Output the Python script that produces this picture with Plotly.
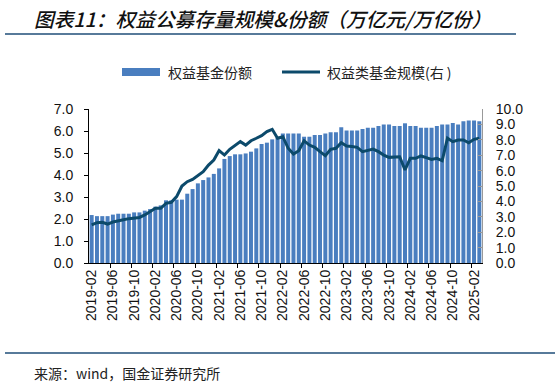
import plotly.graph_objects as go

# ---- data ----
months = []
y, m = 2019, 2
for _ in range(74):
    months.append(f"{y}-{m:02d}")
    m += 1
    if m > 12:
        m = 1
        y += 1

shares = [2.18, 2.13, 2.13, 2.13, 2.20, 2.24, 2.24, 2.24, 2.30, 2.30,
          2.38, 2.45, 2.56, 2.62, 2.85, 2.85, 2.88, 2.88, 3.15, 3.36,
          3.62, 3.77, 3.89, 4.05, 4.30, 4.73, 4.86, 4.94, 4.94, 4.98,
          5.06, 5.21, 5.41, 5.47, 5.62, 5.70, 5.89, 5.89, 5.89, 5.89,
          5.74, 5.74, 5.82, 5.82, 5.89, 5.94, 5.94, 6.17, 6.02, 6.02,
          6.02, 6.09, 6.15, 6.15, 6.23, 6.30, 6.30, 6.23, 6.23, 6.35,
          6.23, 6.23, 6.15, 6.15, 6.15, 6.23, 6.30, 6.30, 6.36, 6.30,
          6.44, 6.48, 6.48, 6.44]

scale = [2.47, 2.62, 2.64, 2.53, 2.66, 2.75, 2.81, 2.88, 2.94, 2.96,
         3.12, 3.33, 3.55, 3.55, 3.87, 3.94, 4.31, 5.00, 5.28, 5.43,
         5.68, 5.93, 6.36, 6.69, 7.30, 7.01, 7.38, 7.66, 7.88, 7.66,
         7.94, 8.10, 8.27, 8.53, 8.68, 8.10, 8.20, 7.45, 7.08, 7.29,
         7.94, 7.66, 7.51, 7.23, 6.97, 7.38, 7.45, 7.81, 7.60, 7.56,
         7.51, 7.23, 7.34, 7.40, 7.23, 7.01, 6.86, 6.90, 6.90, 6.04,
         6.80, 6.80, 6.95, 6.84, 6.73, 6.80, 6.64, 8.10, 7.88, 7.99,
         7.99, 7.81, 8.03, 8.10]

bar_name = "权益基金份额"
line_name = "权益类基金规模(右 )"
title_text = "图表11：权益公募存量规模&份额（万亿元/万亿份）"
source_text = "来源：wind，国金证券研究所"

BAR_COLOR = "#4a7ebf"
LINE_COLOR = "#0c4a6b"

W, H = 559, 385
L, R, T, B = 89, 482, 109, 263  # plot area in pixels

def px(x):
    return (x - L) / (R - L)

def py(y):
    return (B - y) / (B - T)

xs = list(range(len(months)))
tickvals = xs[::4]
ticktext = [months[i] for i in tickvals]
minor_vals = [i + 3.5 for i in range(0, len(months) - 1, 4)]

fig = go.Figure()
fig.add_trace(go.Bar(x=xs, y=shares, name=bar_name, marker_color=BAR_COLOR,
                     marker_line_width=0, showlegend=False))
fig.add_trace(go.Scatter(x=xs, y=scale, name=line_name, yaxis="y2", mode="lines",
                         line=dict(color=LINE_COLOR, width=3), showlegend=False))

tickfont = dict(family="Liberation Sans, Arial, sans-serif", size=14, color="#111")

fig.update_layout(
    width=W, height=H,
    margin=dict(l=L, r=W - R, t=T, b=H - B),
    paper_bgcolor="white", plot_bgcolor="white",
    bargap=0.25,
    xaxis=dict(range=[-0.5, len(months) - 0.5], tickmode="array",
               tickvals=tickvals, ticktext=ticktext, tickangle=-90,
               tickfont=tickfont, showgrid=False, zeroline=False,
               showline=True, linecolor="#000", linewidth=1, ticks="",
               minor=dict(tickmode="array", tickvals=minor_vals, ticks="outside",
                          ticklen=4, tickcolor="#000", showgrid=False)),
    yaxis=dict(range=[0, 7], dtick=1, tickformat=".1f", tickfont=tickfont,
               showgrid=False, zeroline=False, showline=True, linecolor="#000",
               linewidth=1, ticks="outside", ticklen=4, tickcolor="#000",
               ticklabelstandoff=8),
    yaxis2=dict(range=[0, 10], dtick=1, tickformat=".1f", tickfont=tickfont,
                overlaying="y", side="right", showgrid=False, zeroline=False,
                showline=True, linecolor="#999", linewidth=1, ticks="inside",
                ticklen=4, tickcolor="#999", ticklabelstandoff=10),
)

shapes = []
# title rule and footer rule
shapes.append(dict(type="line", xref="paper", yref="paper", x0=px(5), x1=px(516),
                   y0=py(34), y1=py(34), line=dict(color="#1f4e79", width=1.5)))
shapes.append(dict(type="line", xref="paper", yref="paper", x0=px(5), x1=px(555),
                   y0=py(353), y1=py(353), line=dict(color="#1f4e79", width=1.5)))
# legend swatches
shapes.append(dict(type="rect", xref="paper", yref="paper", x0=px(122), x1=px(160),
                   y0=py(76), y1=py(68), fillcolor=BAR_COLOR, line=dict(width=0)))
shapes.append(dict(type="line", xref="paper", yref="paper", x0=px(282), x1=px(320),
                   y0=py(72), y1=py(72), line=dict(color=LINE_COLOR, width=3)))
fig.update_layout(shapes=shapes)

cjk = "Noto Sans CJK SC, sans-serif"
ann = [
    dict(text=title_text, xref="paper", yref="paper", x=px(32), y=py(18),
         xanchor="left", yanchor="middle", showarrow=False,
         font=dict(family=cjk, size=19.7, color="#111", style="italic", weight=500)),
    dict(text=bar_name, xref="paper", yref="paper", x=px(166), y=py(72),
         xanchor="left", yanchor="middle", showarrow=False,
         font=dict(family=cjk, size=14, color="#222")),
    dict(text=line_name, xref="paper", yref="paper", x=px(325), y=py(72),
         xanchor="left", yanchor="middle", showarrow=False,
         font=dict(family=cjk, size=14, color="#222")),
    dict(text=source_text, xref="paper", yref="paper", x=px(32), y=py(373),
         xanchor="left", yanchor="middle", showarrow=False,
         font=dict(family=cjk, size=14, color="#222")),
]
fig.update_layout(annotations=ann)

fig.write_html("out.html", config={"displayModeBar": False},
               post_script="document.body.style.margin='0';")
